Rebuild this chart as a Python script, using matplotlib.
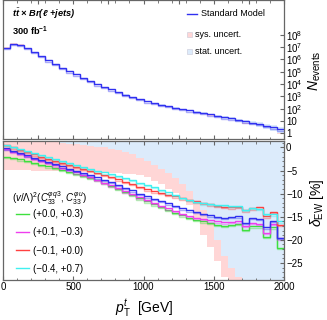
import numpy as np
import matplotlib
matplotlib.use('Agg')
import matplotlib.pyplot as plt
import matplotlib.patheffects as pe
from matplotlib.lines import Line2D
from matplotlib.patches import Rectangle

plt.rcParams['font.family'] = ['Liberation Sans', 'DejaVu Sans']
plt.rcParams['mathtext.fontset'] = 'custom'
plt.rcParams['mathtext.rm'] = 'Liberation Sans'
plt.rcParams['mathtext.it'] = 'Liberation Sans:italic'
plt.rcParams['mathtext.bf'] = 'Liberation Sans:bold'
plt.rcParams['mathtext.sf'] = 'Liberation Sans:bold:italic'

# bins in top pT [GeV], 50 GeV wide
edges = np.arange(0, 2050, 50)

# SM events per bin (300 fb^-1)
n_events = [8.9e6, 1.86e7, 1.55e7, 8.3e6, 3.9e6, 1.86e6, 8.3e5, 4.0e5, 2.0e5, 1.07e5,
            5.9e4, 3.1e4, 1.7e4, 9.5e3, 5.8e3, 3.6e3, 2.2e3, 1.4e3, 910, 590,
            390, 280, 209, 158, 120, 93, 72, 56, 44, 34,
            26, 20, 16, 12, 9.3, 7.2, 5.5, 4.2, 3.0, 2.1]

# uncertainties [%]
stat_unc = [0.4, 0.55, 0.75, 0.95, 1.15, 1.3, 1.6, 1.85, 2.05, 2.2,
            2.3, 2.4, 2.5, 2.6, 2.75, 2.9, 3.1, 3.35, 3.65, 4.1,
            4.75, 5.5, 6.3, 7.2, 8.25, 9.5, 11.0, 13.5, 16.25, 19.0,
            22.25, 25.75, 28.0, 30.0, 33.0, 36.0, 40.0, 44.0, 48.0, 55.0]
sys_unc = [4.4, 4.25, 4.15, 3.95, 3.85, 3.7, 3.5, 3.25, 3.1, 3.0,
           3.0, 2.9, 2.9, 2.8, 2.75, 2.6, 2.5, 2.35, 2.15, 1.9,
           1.75, 1.7, 1.7, 1.7, 1.65, 1.5, 1.5, 2.0, 2.75, 2.5,
           2.25, 2.25, 2.0, 2.0, 2.0, 2.0, 2.0, 2.0, 2.0, 2.0]

# delta_EW [%]
d_sm = [-0.2, -0.7, -1.2, -1.7, -2.2, -2.7, -3.2, -3.6, -4.1, -4.6,
        -5.0, -5.5, -6.0, -6.5, -7.0, -7.5, -8.1, -8.7, -9.3, -10.0,
        -10.6, -11.1, -11.6, -12.1, -12.6, -13.2, -13.6, -14.0, -14.4, -14.7,
        -15.0, -15.2, -15.1, -14.9, -16.4, -15.3, -15.4, -17.3, -15.9, -19.5]
d_a = [-2.1, -2.3, -2.6, -2.9, -3.3, -3.7, -4.1, -4.5, -4.9, -5.3,
       -5.7, -6.1, -6.6, -7.1, -7.7, -8.3, -8.9, -9.6, -10.3, -11.0,
       -11.7, -12.3, -12.9, -13.5, -14.1, -14.7, -15.2, -15.6, -16.0, -16.4,
       -16.8, -16.9, -16.8, -16.6, -17.8, -17.1, -17.1, -19.3, -17.3, -21.7]
d_b = [-0.35, -0.9, -1.4, -1.9, -2.4, -2.9, -3.4, -3.9, -4.4, -4.9,
       -5.4, -5.9, -6.4, -7.0, -7.6, -8.2, -8.8, -9.5, -10.1, -10.8,
       -11.4, -12.0, -12.6, -13.2, -13.8, -14.4, -14.8, -15.2, -15.5, -15.8,
       -16.0, -16.2, -16.1, -16.0, -17.0, -16.4, -16.5, -18.5, -16.6, -19.7]
d_c = [0.5, 0.0, -0.5, -1.0, -1.5, -2.0, -2.4, -2.9, -3.3, -3.8,
       -4.2, -4.6, -5.1, -5.5, -6.0, -6.4, -6.9, -7.4, -7.9, -8.6,
       -9.1, -9.5, -9.9, -10.3, -10.6, -11.0, -11.4, -11.7, -12.0, -12.3,
       -12.6, -12.8, -13.0, -12.8, -13.6, -13.2, -13.0, -14.9, -14.0, -16.8]
d_d = [0.6, 0.2, -0.3, -0.8, -1.2, -1.6, -2.0, -2.5, -2.9, -3.4,
       -3.8, -4.2, -4.6, -5.0, -5.4, -5.8, -6.2, -6.6, -7.1, -7.6,
       -8.1, -8.6, -9.2, -9.7, -10.3, -10.9, -11.4, -11.8, -12.1, -12.2,
       -12.4, -12.5, -12.6, -12.6, -13.5, -13.1, -13.3, -14.4, -14.5, -16.0]

bsm_labels = ['(+0.0, +0.3)', '(+0.1, \u22120.3)', '(\u22120.1, +0.0)', '(\u22120.4, +0.7)']
bsm_colors = ['#3ee03e', '#ee3eee', '#ff4040', '#40f0f0']

sm_color = '#3030f0'
stat_color = '#dcebfb'
sys_color = '#ffd6d6'
frame = '#666666'

n = np.array(n_events)
s = np.array(stat_unc)
sy = np.array(sys_unc)


def shadow(c):
    return [pe.SimpleLineShadow(offset=(0, -0.9), shadow_color=c, alpha=0.4), pe.Normal()]


fig = plt.figure(figsize=(3.27, 3.20), dpi=100)
ax1 = fig.add_axes([0.0092, 0.5656, 0.8593, 0.4329])
ax2 = fig.add_axes([0.0092, 0.125, 0.8593, 0.4344])

# TOP PANEL
ax1.stairs(n * (1 + s / 100), edges, baseline=n * (1 - s / 100), fill=True, color=stat_color, lw=0)
ax1.stairs(n * (1 - (s - sy) / 100), edges, baseline=n * (1 - (s + sy) / 100), fill=True,
           color=sys_color, lw=0)
ax1.stairs(n, edges, baseline=None, color=sm_color, lw=1.0, path_effects=shadow(sm_color))
ax1.set_yscale('log')
ax1.set_ylim(10 ** -0.46, 10 ** 10.77)
ax1.set_yticks([10 ** k for k in range(9)])
ax1.set_yticklabels(['1', '10'] + [r'$10^{%d}$' % k for k in range(2, 9)])
ax1.yaxis.set_minor_locator(matplotlib.ticker.NullLocator())
ax1.tick_params(axis='x', labelbottom=False)

ax1.text(0.032, 0.905, r'$\mathsf{t}\bar{\mathsf{t}}$' + ' \u00d7 Br(\u2113 +jets)',
         transform=ax1.transAxes, fontsize=6.7, fontweight='bold', style='italic', va='center')
ax1.text(0.032, 0.775, r'300 fb$^{\mathbf{-1}}$', transform=ax1.transAxes, fontsize=6.7,
         fontweight='bold', va='center')

# legend of the top panel
ax1.add_line(Line2D([0.655, 0.69], [0.906, 0.906], transform=ax1.transAxes, color=sm_color, lw=1))
ax1.text(0.703, 0.906, 'Standard Model', transform=ax1.transAxes, fontsize=6.5, va='center')
for yy, col, lab in [(0.755, sys_color, 'sys. uncert.'), (0.633, stat_color, 'stat. uncert.')]:
    ax1.add_patch(Rectangle((0.655, yy - 0.016), 0.016, 0.032, transform=ax1.transAxes,
                            facecolor=col, edgecolor='#c8c8d8', lw=0.4))
    ax1.text(0.683, yy, lab, transform=ax1.transAxes, fontsize=6.5, va='center')

# BOTTOM PANEL
ax2.stairs(s, edges, baseline=-s, fill=True, color=stat_color, lw=0)
ax2.stairs(-s + sy, edges, baseline=-s - sy, fill=True, color=sys_color, lw=0)
for vals, c in [(d_a, bsm_colors[0]), (d_b, bsm_colors[1]), (d_sm, sm_color),
                (d_c, bsm_colors[2]), (d_d, bsm_colors[3])]:
    ax2.stairs(vals, edges, baseline=None, color=c, lw=1.0, path_effects=shadow(c))
ax2.set_ylim(-28.7, 1.4)
ax2.set_yticks([0, -5, -10, -15, -20, -25])
ax2.yaxis.set_minor_locator(matplotlib.ticker.MultipleLocator(1))
ax2.set_xticks([0, 500, 1000, 1500, 2000])

handles = [Line2D([], [], color=c, lw=1) for c in bsm_colors]
leg = ax2.legend(handles, bsm_labels, loc='upper left', bbox_to_anchor=(0.048, 0.51),
                 frameon=False, fontsize=7, labelspacing=0.85, handlelength=1.25,
                 handletextpad=0.45, borderpad=0, borderaxespad=0)
ax2.text(0.032, 0.59, r'$(v/\Lambda)^2(C_{33}^{\varphi q3},\,C_{33}^{\varphi u})$',
         transform=ax2.transAxes, fontsize=7, va='center')

for ax in (ax1, ax2):
    ax.set_xlim(0, 2000)
    ax.xaxis.set_minor_locator(matplotlib.ticker.MultipleLocator(100))
    ax.yaxis.tick_right()
    ax.tick_params(which='both', direction='in', top=True, bottom=True, left=False, right=True,
                   labelleft=False, labelright=True, labelsize=7, pad=1.5, color=frame)
    ax.tick_params(which='major', length=3)
    ax.tick_params(which='minor', length=1.8)
    for sp in ax.spines.values():
        sp.set_color(frame)
        sp.set_linewidth(0.9)

fig.text(0.963, 0.78, r'$N_{\mathrm{events}}$', rotation=90, fontsize=10, ha='center', va='center')
fig.text(0.97, 0.365, r'$\delta_{\mathrm{EW}}$ [%]', rotation=90, fontsize=10, ha='center', va='center')
fig.text(0.44, 0.036, r'$p_{\mathrm{T}}^{t}$  [GeV]', fontsize=10, ha='center', va='center')

fig.savefig('out.png', dpi=100)
